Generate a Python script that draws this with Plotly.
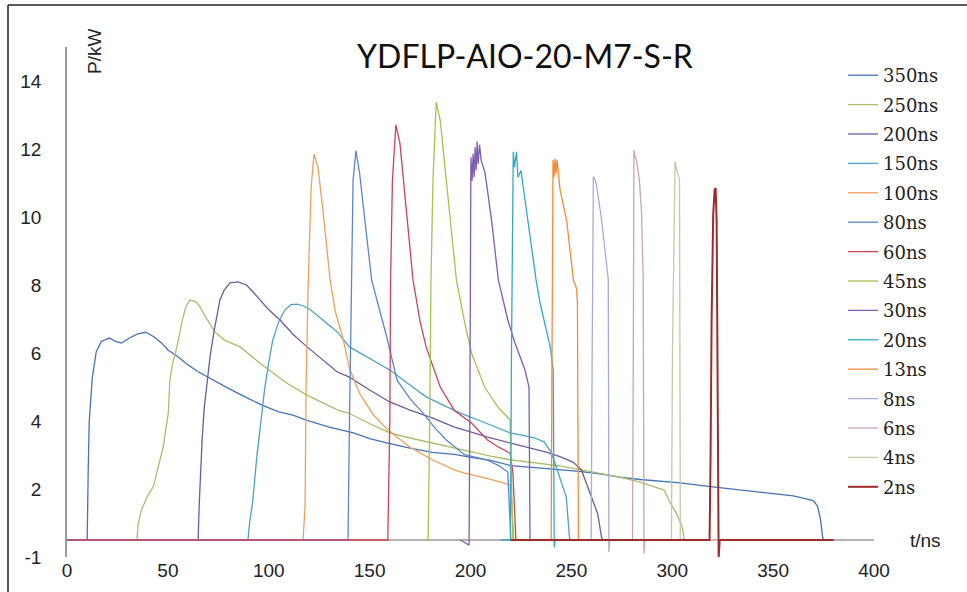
import plotly.graph_objects as go

# ---- data (t in ns, P in kW on the chart's scale) ----
t_350 = [0,10,10.5,11,12.5,14.5,17,21,24,27,31,35,39,43,47,50,55,60,65,70,80,90,97,105,112,119,130,142,150,159,170,181,192,201,210,220,230,242,254,265,274,284,295,304,320,335,350,360,366,370,372,373.5,374.5,375,380]
p_350 = [0.5,0.5,2.5,3.97,5.25,6.04,6.34,6.44,6.34,6.29,6.44,6.56,6.61,6.48,6.29,6.09,5.89,5.65,5.45,5.28,4.96,4.66,4.46,4.27,4.17,4.02,3.82,3.65,3.48,3.35,3.2,3.08,3.02,2.92,2.84,2.69,2.64,2.59,2.52,2.44,2.35,2.28,2.22,2.18,2.06,1.97,1.88,1.8,1.72,1.65,1.5,1.1,0.6,0.5,0.5]

t_250 = [0,34.7,35.3,37,40,42.8,45,47.7,50.2,51,52.5,54.5,57,59,61,63.5,66,69,73.3,78,85.8,95.7,109,119,134,140,150,160,170,181,197,210,219.6,233,245,255,265,274,284,292,296,299,302,305,306,380]
p_250 = [0.5,0.5,1.0,1.4,1.8,2.07,2.6,3.24,4.23,5.2,5.74,6.18,6.93,7.37,7.56,7.52,7.35,7.03,6.62,6.38,6.18,5.7,5.11,4.76,4.33,4.22,3.92,3.65,3.5,3.35,3.14,2.97,2.86,2.77,2.67,2.56,2.46,2.35,2.2,2.05,1.97,1.59,1.29,0.88,0.5,0.5]

t_200 = [0,65,65.5,66,67,68,69.5,71,73,75.8,78,80.8,84.8,89,92,95.5,100,105.6,112,119,127,134,140,150,160,170,181,192,200,208,220,230,238,245,250.8,255,258,261,263,265,265.5,380]
p_200 = [0.5,0.5,1.5,2.3,3.48,4.37,5.25,5.94,6.68,7.56,7.86,8.06,8.09,8.0,7.81,7.56,7.27,6.97,6.55,6.18,5.79,5.44,5.29,4.91,4.56,4.32,4.09,3.82,3.68,3.53,3.35,3.2,3.08,2.94,2.79,2.56,2.07,1.6,1.28,0.57,0.5,0.5]

t_150 = [0,89.7,90.5,92,94,96,98,100,102,105,108,111,114,117,120,125,134,140,150,160,170,178,187,195,205,212,219.6,226,232,236.6,240,243,247.5,249,249.5,380]
p_150 = [0.5,0.5,1.0,1.6,2.9,3.97,4.96,5.74,6.38,6.93,7.27,7.42,7.44,7.39,7.3,7.06,6.62,6.18,5.85,5.5,5.06,4.71,4.45,4.23,4.0,3.83,3.65,3.58,3.5,3.38,3.08,2.56,1.76,0.6,0.5,0.5]

t_100 = [0,117,118,118.5,119.5,121,122.4,124.4,127,130.4,133,136.8,140,145,152,159,170,181,192,197,210,219.6,220.5,221.5,380]
p_100 = [0.5,0.5,1.5,4.96,7.91,10.87,11.85,11.46,10.12,8.15,7.22,6.43,5.55,4.81,4.17,3.74,3.23,2.86,2.56,2.47,2.28,2.12,1.5,0.5,0.5]

t_80 = [0,139.3,140,141,141.8,143.2,145,147.7,151,154,158.5,163.6,170,176.5,182,188,197,208,214,218.5,219.3,220,380]
p_80 = [0.5,0.5,3.97,8.15,11.07,11.95,11.3,9.88,8.15,7.47,6.47,5.2,4.66,4.23,3.82,3.44,3.01,2.86,2.69,2.5,1.2,0.5,0.5]

t_60 = [0,159,160,160.4,161.3,163,165,167.5,171.5,175,178,185,192,200.5,208.4,214,219.6,221,222,222.5,380]
p_60 = [0.5,0.5,3.97,8.15,11.07,12.71,12.18,10.58,8.15,6.93,6.18,5.0,4.31,3.94,3.44,3.23,3.05,2.5,1.2,0.5,0.5]

t_45 = [178,179,179.8,180.4,181.4,183,185,188,193,197,200.5,207,213.6,219.6,220.5,221,380]
p_45 = [0.5,0.5,3.97,8.15,11.07,13.38,12.84,11.07,8.15,6.93,6.0,5.0,4.41,4.03,1.5,0.5,0.5]

t_30 = [195,199.3,199.8,200.2,200.8,201.3,201.8,202.3,202.8,203.3,203.8,204.5,205.3,207.2,210.5,213.8,218.5,222,227,229,229.5,230,380]
p_30 = [0.5,0.35,5.94,11.76,11.07,11.85,11.17,12.05,11.37,12.22,11.56,12.12,11.66,11.3,9.88,8.15,6.97,6.3,5.5,5.0,0.5,0.5,0.5]

t_20 = [215,219.8,220.3,220.8,221.2,221.8,222.3,222.8,223.5,225,227.5,232.5,234.5,239.5,241,241.5,242,380]
p_20 = [0.5,0.5,5.94,11.58,11.92,11.46,11.66,11.92,11.17,11.37,10.3,8.15,7.47,6.18,5.5,0.28,0.5,0.5]

t_13 = [235,240,240.4,240.9,241.4,241.9,242.4,242.9,243.4,244.4,247.7,251,252.5,253,253.5,380]
p_13 = [0.5,0.5,5.94,11.68,11.17,11.72,11.27,11.68,11.37,10.8,9.88,8.15,7.91,7.47,0.5,0.5]

t_8 = [255,259.8,260.3,260.9,261.8,262.6,265,268.3,268.6,269,380]
p_8 = [0.5,0.5,5.94,11.19,11.09,10.89,9.91,8.15,0.15,0.5,0.5]

t_6 = [275,280.3,280.7,281,281.6,282.3,283.7,284.8,285.6,286,286.4,380]
p_6 = [0.5,0.5,5.94,11.97,11.76,11.68,11.09,10.12,8.15,0.1,0.5,0.5]

t_4 = [295,299.6,300.1,301.0,301.4,302.3,303.6,304,304.3,380]
p_4 = [0.5,0.5,5.94,11.47,11.63,11.37,11.09,0.5,0.5,0.5]

t_2 = [220,318.5,319,319.5,320.3,321,321.5,322,322.4,322.7,323,323.5,380]
p_2 = [0.5,0.5,3.0,6.93,10.08,10.8,10.85,9.88,5.94,1.0,-0.05,0.5,0.5]

names = ["350ns","250ns","200ns","150ns","100ns","80ns","60ns","45ns","30ns","20ns","13ns","8ns","6ns","4ns","2ns"]
times = [t_350,t_250,t_200,t_150,t_100,t_80,t_60,t_45,t_30,t_20,t_13,t_8,t_6,t_4,t_2]
powers = [p_350,p_250,p_200,p_150,p_100,p_80,p_60,p_45,p_30,p_20,p_13,p_8,p_6,p_4,p_2]
colors = ["#4672B4","#A9BD6A","#6F5B9A","#4BA3C3","#F0A05A","#5A86CC","#C8455A",
          "#A5C34F","#7E5EB0","#35A9C4","#F28C38","#A3AED2","#C9A3B6","#BFCBAA","#9E2A2B"]
widths = [1.3]*14 + [2.0]

x_ticks = [0,50,100,150,200,250,300,350,400]
y_ticks = [0,2,4,6,8,10,12,14]
y_ticktext = ["-1","2","4","6","8","10","12","14"]

fig = go.Figure()
for n, t, p, c, w in zip(names, times, powers, colors, widths):
    fig.add_trace(go.Scatter(x=t, y=p, mode="lines", name=n, legendgroup=n,
                             line=dict(color=c, width=w)))

W, H = 967, 592
L, R, T, B = 67, 93, 47, 35
pw, ph = W - L - R, H - T - B

def px(xp):
    return (xp - L) / pw

def py(yp):
    return (H - B - yp) / ph

fig.update_layout(
    width=W, height=H,
    margin=dict(l=L, r=R, t=T, b=B),
    paper_bgcolor="white", plot_bgcolor="white",
    title=dict(text="YDFLP-AIO-20-M7-S-R", x=525/W, xanchor="center",
               y=1-57/H, yanchor="middle",
               font=dict(family="Lato", size=32, color="#111")),
    xaxis=dict(range=[0, 400], tickvals=x_ticks, showgrid=False, zeroline=False,
               showline=False, ticks="", tickfont=dict(family="Liberation Sans", size=19, color="#222")),
    yaxis=dict(range=[0, 15.0], tickvals=y_ticks, ticktext=y_ticktext, showgrid=False,
               zeroline=False, showline=True, linecolor="#9a9a9a", linewidth=1.5, ticks="",
               ticklabelstandoff=20,
               tickfont=dict(family="Liberation Sans", size=19, color="#222")),
    legend=dict(x=px(843), y=py(57), xanchor="left", yanchor="top",
                bgcolor="rgba(0,0,0,0)", tracegroupgap=3,
                font=dict(family="DejaVu Serif", size=18, color="#222")),
    showlegend=True,
)

fig.add_shape(type="line", xref="x", yref="y", x0=0, x1=400, y0=0.5, y1=0.5,
              line=dict(color="#9a9a9a", width=1.5), layer="below")
# frame edges of the original picture
fig.add_shape(type="line", xref="paper", yref="paper", x0=px(8), x1=px(W+5), y0=py(5), y1=py(5),
              line=dict(color="#222", width=1.5))
fig.add_shape(type="line", xref="paper", yref="paper", x0=px(8), x1=px(8), y0=py(5), y1=py(H+5),
              line=dict(color="#222", width=1.5))

fig.add_annotation(text="P/kW", xref="paper", yref="paper", x=px(95), y=py(52),
                   textangle=-90, showarrow=False, xanchor="center", yanchor="middle",
                   font=dict(family="Liberation Sans", size=19, color="#222"))
fig.add_annotation(text="t/ns", xref="paper", yref="y", x=px(925), y=0.5,
                   showarrow=False, xanchor="center", yanchor="middle",
                   font=dict(family="Liberation Sans", size=19, color="#222"))

fig.write_html("out.html", config={"displayModeBar": False},
               post_script="document.body.style.margin='0';document.body.style.overflow='hidden';")
